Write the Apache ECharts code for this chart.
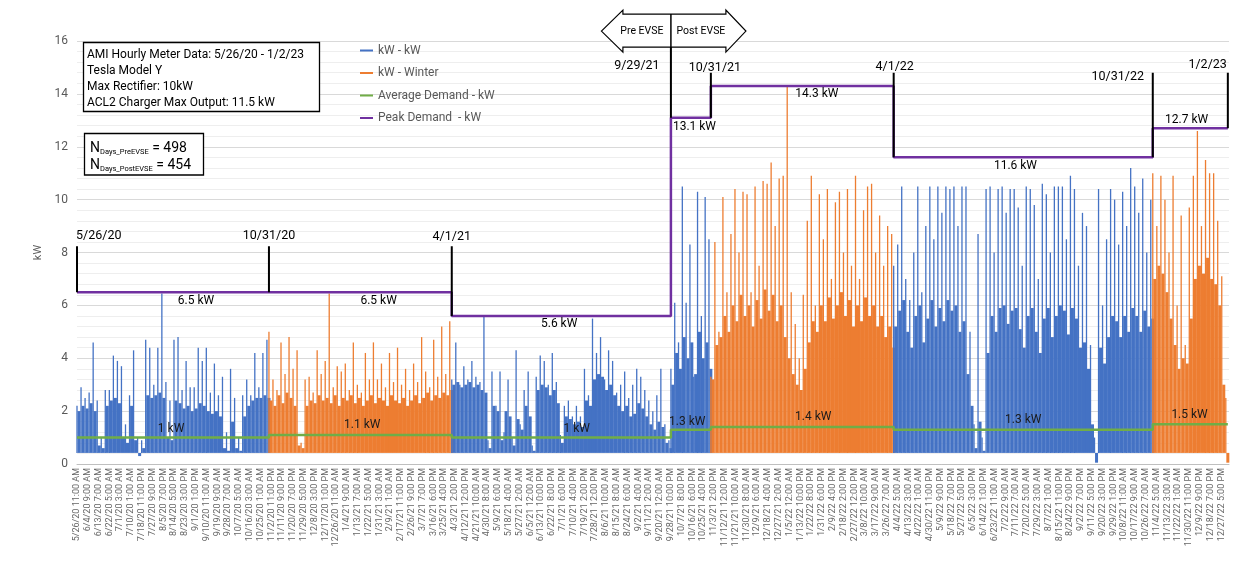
<!DOCTYPE html>
<html><head><meta charset="utf-8">
<script src="https://cdn.jsdelivr.net/npm/echarts@6/dist/echarts.min.js"></script>
<style>html,body{margin:0;padding:0;background:#fff}#c{width:1254px;height:562px}</style>
</head><body><div id="c"></div>
<script>
// ---- time frame (hours counted from the first tick label, 5/26/20 11:00 AM) ----
const START = Date.UTC(2020, 4, 26, 11);
const TICK_HOURS = 214;
const SPRING_FORWARD = [Date.UTC(2021, 2, 14, 2), Date.UTC(2022, 2, 13, 2)];
const periodDates = [[2020,5,26,11],[2020,11,1],[2021,4,1],[2021,9,29],[2021,11,1],[2022,4,1],[2022,11,1],[2023,1,2]];
const periodLabels = ['5/26/20','10/31/20','4/1/21','9/29/21','10/31/21','4/1/22','10/31/22','1/2/23'];
const peakVals = [6.5, 6.5, 5.6, 13.1, 14.3, 11.6, 12.7];
const avgVals  = [1.0, 1.1, 1.0, 1.3, 1.4, 1.3, 1.5];
const infoLines = ['AMI Hourly Meter Data: 5/26/20 - 1/2/23','Tesla Model Y','Max Rectifier: 10kW','ACL2 Charger Max Output: 11.5 kW'];
const nDaysPre = 498, nDaysPost = 454;

// ---- hourly kW ----
// highs = spike tops, lows = top of the dense body between spikes, floorKW = base load
const floorKW = 0.42;
const highsA = [2.2,2.9,2.5,2.7,4.6,2.4,1.0,2.8,2.8,4.1,3.9,3.7,1.5,2.6,4.3,1.0,0.9,4.7,4.4,3.0,4.4,6.45,3.1,2.4,4.7,4.8,2.8,3.9,2.9,2.9,4.4,3.9,4.4,2.7,3.8,2.6,3.3,1.2,3.6,2.5,1.0,2.6,3.2,2.6,4.2,2.9,4.2,4.7];
const lowsA  = [2.0,2.2,2.1,2.3,2.0,0.7,0.6,2.2,2.4,2.5,2.3,1.0,0.8,2.2,0.9,0.3,0.6,2.6,2.5,2.6,2.7,2.5,1.0,0.9,2.4,2.3,2.1,2.2,2.0,2.1,2.3,2.2,2.0,1.9,2.0,1.8,0.6,0.5,1.6,0.6,0.5,1.8,2.2,2.4,2.5,2.5,2.6,2.5];
const highsB = [5.0,3.2,2.8,4.6,3.4,4.8,3.6,4.3,0.8,3.2,3.3,2.7,4.3,3.4,3.9,6.45,2.9,3.7,3.5,3.8,2.8,4.6,3.0,2.7,4.2,3.2,4.6,3.2,3.8,2.9,4.2,3.1,4.4,3.0,3.6,2.8,3.8,3.1,4.8,3.5,2.9,4.7,3.3,5.2,3.4,5.4];
const lowsB  = [2.4,2.2,2.6,2.3,2.7,2.5,2.2,0.7,0.6,2.2,2.4,2.3,2.6,2.4,2.5,2.3,2.6,2.2,2.5,2.4,2.6,2.3,2.5,2.2,2.4,2.6,2.3,2.5,2.4,2.2,2.6,2.4,2.3,2.5,2.2,2.4,2.6,2.3,2.5,2.7,2.4,2.6,2.5,2.7,2.6,2.8];
const highsC1 = [3.2,4.6,3.0,3.7,3.2,3.9,3.3,3.1,5.6,0.9,3.5,2.2,3.5,1.2,3.2,1.0,4.3,1.5,2.8,3.5,0.7,3.3,4.1,3.9,3.0,4.2,3.1,1.1,2.2,2.4,1.8,2.2,1.8,3.6,2.6,5.5,4.2,4.8,3.2,4.3,3.9,2.7,3.0,3.5,2.5,3.0,3.6,3.3,2.8,2.4,2.0,2.6,3.6,1.5,0.9];
const lowsC1  = [3.0,3.1,2.9,3.0,3.1,2.9,3.0,2.8,2.7,0.6,2.2,2.0,0.9,2.0,1.8,0.7,1.7,1.3,2.2,1.8,0.5,2.8,3.0,2.9,2.6,2.8,2.3,0.8,1.8,1.7,1.5,1.6,1.4,2.4,2.2,3.2,3.4,3.3,2.8,3.0,2.6,2.2,2.0,2.2,1.8,1.9,2.3,2.1,1.8,1.5,1.3,1.6,1.4,0.8,0.6];
const highsC2 = [3.6,6.1,4.6,10.5,6.1,8.3,3.3,10.3,5.6,10.1,8.5];
const lowsC2  = [3.0,4.2,3.6,4.8,4.0,4.6,3.4,5.0,4.0,4.6,3.6];
const highsD = [3.3,8.4,5.0,10.1,6.5,8.7,10.4,8.0,10.3,10.2,6.5,10.5,7.5,10.7,10.6,11.4,9.0,10.8,10.9,14.3,6.5,5.3,4.0,6.4,9.2,10.9,6.0,10.2,8.5,10.4,7.0,9.9,10.3,8.0,10.4,7.5,10.9,7.0,9.6,10.5,10.6,8.0,9.4,7.5,9.0,8.7];
const lowsD  = [3.2,4.5,4.8,5.6,5.0,6.0,5.4,6.4,5.6,6.0,5.2,6.2,5.5,6.6,5.8,6.4,5.4,6.0,4.8,4.0,3.4,3.0,2.8,3.6,4.6,5.4,5.0,6.0,5.4,6.3,5.5,6.0,6.5,5.6,6.2,5.2,6.0,5.4,6.3,5.6,6.0,5.2,5.6,4.8,5.2,4.4];
const highsE = [7.5,8.3,10.5,7.0,6.2,8.0,10.5,6.5,9.0,10.5,8.5,10.5,9.5,10.5,10.4,10.5,9.0,10.5,10.5,5.0,1.5,8.7,1.0,10.4,10.5,8.0,10.4,10.5,9.5,10.4,10.4,9.7,7.5,10.5,10.4,9.8,7.0,10.6,10.2,8.0,10.5,10.5,10.5,8.5,10.9,10.4,7.5,9.5,9.0,4.5,1.0,10.4,6.0,8.5,10.4,10.0,8.3,10.3,9.0,11.2,10.5,9.5,10.8,8.0,10.0];
const lowsE  = [5.2,5.8,6.2,5.0,4.4,5.6,6.0,4.6,5.5,6.2,5.2,5.9,5.4,6.2,5.8,6.0,5.0,5.4,3.4,2.2,0.6,1.6,0.5,4.2,5.6,5.0,5.9,6.0,5.3,5.8,5.9,5.1,4.4,5.6,5.9,5.0,4.2,5.5,5.9,4.8,5.6,6.0,5.8,4.9,5.9,5.5,4.4,4.6,3.6,1.5,0.05,4.4,3.8,4.8,5.6,5.4,4.8,5.6,5.0,5.9,5.6,5.0,5.8,5.2,5.5];
const highsF = [11.0,9.0,10.9,10.0,8.0,10.9,6.0,9.4,4.5,9.7,10.9,12.6,9.0,11.5,11.0,11.0,9.2,7.1,2.5];
const lowsF  = [7.0,7.5,7.2,6.5,5.5,4.5,3.6,4.0,3.8,5.5,7.0,7.5,7.2,7.8,7.0,6.8,6.0,3.0,0.05];

// ---- helpers ----
const hoursOf = (a) => (Date.UTC(a[0], a[1]-1, a[2], a[3]||0) - START) / 3600000;
const bounds = periodDates.map(hoursOf);
const END_HOUR = bounds[bounds.length-1] + 23;

function fmtHour(v){
  let t = START + v*3600000;
  for (const s of SPRING_FORWARD) if (t >= s) t += 3600000;
  const d = new Date(t);
  const M = d.getUTCMonth()+1, D = d.getUTCDate(), Y = d.getUTCFullYear()%100;
  let h = d.getUTCHours(); const ap = h < 12 ? 'AM' : 'PM'; h = h % 12; if (h === 0) h = 12;
  return M + '/' + D + '/' + (Y<10?'0':'') + Y + ' ' + h + ':00 ' + ap;
}
function segPoints(t0, t1, highs, lows){
  const vals = [];
  for (let i = 0; i < highs.length; i++){ vals.push(highs[i]); if (i < lows.length) vals.push(lows[i]); }
  const n = vals.length;
  return vals.map((v, j) => [t0 + j*(t1-t0)/(n-1), v]);
}
function stepData(vals){
  const d = [];
  vals.forEach((v,k) => { d.push([bounds[k], v]); d.push([bounds[k+1], v]); });
  return d;
}

const BLUE='#4472C4', ORANGE='#ED7D31', GREEN='#70AD47', PURPLE='#7030A0';
const FONT = 'Roboto';
const segDefs = [
  {name:'kW - kW', color:BLUE, from:0, to:1, highs:highsA, lows:lowsA},
  {name:'kW - Winter', color:ORANGE, from:1, to:2, highs:highsB, lows:lowsB},
  {name:'kW - kW', color:BLUE, from:2, to:3, highs:highsC1, lows:lowsC1},
  {name:'kW - kW', color:BLUE, from:3, to:4, highs:highsC2, lows:lowsC2},
  {name:'kW - Winter', color:ORANGE, from:4, to:5, highs:highsD, lows:lowsD},
  {name:'kW - kW', color:BLUE, from:5, to:6, highs:highsE, lows:lowsE},
  {name:'kW - Winter', color:ORANGE, from:6, to:7, highs:highsF, lows:lowsF}
];

const markerTop = [8.24, 8.24, 8.24, 16.98, 14.8, 14.8, 14.8, 14.8];
function markerBottom(k){
  if (k === 0) return peakVals[0];
  if (k === bounds.length-1) return peakVals[k-1];
  if (k === 3) return peakVals[3];
  return Math.min(peakVals[k-1], peakVals[k]);
}
const markerData = [];
bounds.forEach((b,k) => { markerData.push([b, markerTop[k]], [b, markerBottom(k)], [b, null]); });

const series = [];
segDefs.forEach(s => {
  const color = s.color;
  series.push({type:'custom', name:s.name, data:segPoints(bounds[s.from], bounds[s.to], s.highs, s.lows),
    encode:{x:0, y:1}, z:2, silent:true, itemStyle:{color},
    renderItem:(params, api) => {
      const top = api.coord([api.value(0), api.value(1)]);
      const bot = api.coord([api.value(0), floorKW]);
      const isHigh = params.dataIndex % 2 === 0;
      return {type:'line', shape:{x1:top[0], y1:bot[1], x2:top[0], y2:top[1]},
        style:{stroke:color, lineWidth:isHigh ? 1.3 : 3}};
    }});
});
series.push({type:'line', name:'Average Demand - kW', data:stepData(avgVals), symbol:'none', z:3,
  lineStyle:{color:GREEN, width:2.5}, itemStyle:{color:GREEN}});
series.push({type:'line', name:'Peak Demand  - kW', data:stepData(peakVals), symbol:'none', z:4,
  lineStyle:{color:PURPLE, width:2.5}, itemStyle:{color:PURPLE}});
series.push({type:'line', name:'markers', data:markerData, symbol:'none', z:5, clip:false, silent:true,
  connectNulls:false, lineStyle:{color:'#000', width:2}, itemStyle:{color:'#000'}});

const chart = echarts.init(document.getElementById('c'));
chart.setOption({
  animation:false,
  backgroundColor:'#fff',
  textStyle:{fontFamily:FONT},
  grid:{left:77, right:25, top:41, bottom:98},
  legend:{
    data:['kW - kW','kW - Winter','Average Demand - kW','Peak Demand  - kW'],
    orient:'vertical', left:355, top:38, itemGap:7.5, icon:'rect', itemWidth:13, itemHeight:2,
    textStyle:{fontSize:12, color:'#595959', fontFamily:FONT, lineHeight:15}
  },
  xAxis:{
    type:'value', min:0, max:END_HOUR, interval:TICK_HOURS,
    axisLine:{show:true, lineStyle:{color:'#BFBFBF'}}, axisTick:{show:false}, splitLine:{show:false},
    axisLabel:{rotate:90, fontSize:9, color:'#666666', margin:4, fontFamily:FONT, showMaxLabel:false,
      formatter:(v) => (v % TICK_HOURS === 0 ? fmtHour(v) : '')}
  },
  yAxis:{
    type:'value', min:0, max:16, interval:2, name:'kW', nameLocation:'middle', nameGap:26,
    nameTextStyle:{fontSize:11, color:'#595959', fontFamily:FONT},
    axisLine:{show:false}, axisTick:{show:false},
    axisLabel:{fontSize:12, color:'#595959', margin:9, fontFamily:FONT},
    splitLine:{lineStyle:{color:'#D9D9D9', width:1}},
    minorTick:{show:false, splitNumber:5},
    minorSplitLine:{show:true, lineStyle:{color:'#EEEEEE', width:1}}
  },
  series
});

// ---- annotations ----
const P = (h, kw) => chart.convertToPixel({gridIndex:0}, [h, kw]);
function text(x, y, str, opt){
  opt = opt || {};
  const al = opt.align || 'center';
  return {type:'text', x, y, z:120, silent:true,
    style:{text:str, fontSize:opt.size||12, fontFamily:FONT, fill:opt.color||'#000',
      align:al, textAlign:al, verticalAlign:'middle', textVerticalAlign:'middle'}};
}
const g = [];
g.push({type:'rect', z:110, shape:{x:83.5, y:42.5, width:236, height:69}, style:{fill:'#fff', stroke:'#000', lineWidth:1.3}});
infoLines.forEach((s,i) => g.push(text(87, 54.5 + i*16.3, s, {align:'left'})));
g.push({type:'rect', z:110, shape:{x:84.5, y:133.5, width:119, height:41.5}, style:{fill:'#fff', stroke:'#000', lineWidth:1.3}});
[['Days_PreEVSE', nDaysPre, 148], ['Days_PostEVSE', nDaysPost, 165]].forEach(r => {
  g.push({type:'text', x:90, y:r[2], z:120, silent:true, style:{
    text:'{n|N}{s|' + r[0] + '}{n| = ' + r[1] + '}', fontFamily:FONT,
    verticalAlign:'middle', textVerticalAlign:'middle',
    rich:{n:{fontSize:14, fontFamily:FONT, fill:'#000', lineHeight:17},
          s:{fontSize:7.5, fontFamily:FONT, fill:'#000', lineHeight:9, verticalAlign:'bottom'}}}});
});
const [ax, ay] = P(bounds[3], markerTop[3]);
g.push({type:'polygon', z:115, shape:{points:[[ax-69.5,ay+16],[ax-48,ay-5],[ax-48,ay-1],[ax+55,ay-1],[ax+55,ay-5],[ax+75,ay+16],[ax+55,ay+37],[ax+55,ay+32],[ax-48,ay+32],[ax-48,ay+37]]},
  style:{fill:'#fff', stroke:'#000', lineWidth:1.2}});
g.push({type:'line', z:116, shape:{x1:ax, y1:ay-1, x2:ax, y2:ay+32}, style:{stroke:'#000', lineWidth:1.5}});
g.push(text(ax-29, ay+16, 'Pre EVSE', {size:10.5}));
g.push(text(ax+30, ay+16, 'Post EVSE', {size:10.5}));
const dateLabelPos = [[8.62,-1,'left'],[8.62,0,'center'],[8.58,0,'center'],[15.05,-34,'center'],[15.0,4,'center'],[15.02,1,'center'],[14.63,-35,'center'],[15.09,-1,'right']];
bounds.forEach((b,k) => {
  const [px, py] = P(b, dateLabelPos[k][0]);
  g.push(text(px + dateLabelPos[k][1], py, periodLabels[k], {align:dateLabelPos[k][2], size:12.5}));
});
const peakLabelPos = [[0.62,9],[0.60,9],[0.49,8],[0.05,9,'left'],[0.58,8],[0.47,9],[0.45,-8]];
const avgLabelPos  = [[0.49,-9],[0.51,-10],[0.57,-9],[0.41,-8],[0.56,-10],[0.5,-10],[0.49,-9]];
peakVals.forEach((v,k) => {
  const h = bounds[k] + peakLabelPos[k][0]*(bounds[k+1]-bounds[k]);
  const [px, py] = P(h, v);
  g.push(text(px, py + peakLabelPos[k][1], v + ' kW', {align:peakLabelPos[k][2]||'center'}));
});
avgVals.forEach((v,k) => {
  const h = bounds[k] + avgLabelPos[k][0]*(bounds[k+1]-bounds[k]);
  const [px, py] = P(h, v);
  g.push(text(px, py + avgLabelPos[k][1], v + ' kW', {color:'#1a1a1a'}));
});
chart.setOption({graphic:{elements:g}});
</script>
</body></html>
